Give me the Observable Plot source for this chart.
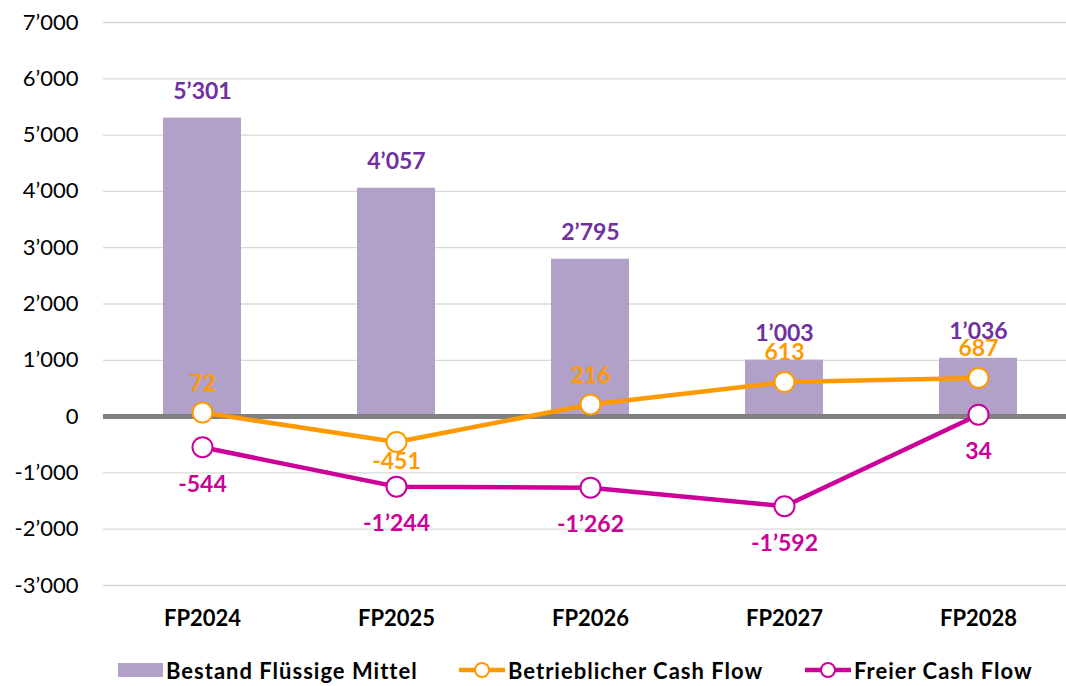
<!DOCTYPE html>
<html><head><meta charset="utf-8">
<script src="https://cdn.jsdelivr.net/npm/d3@7"></script>
<script src="https://cdn.jsdelivr.net/npm/@observablehq/plot@0.6"></script>
<style>
body{margin:0;background:#fff;font-family:Lato,sans-serif;}
#chart{width:1066px;height:640px;overflow:hidden;}
#legend{position:relative;height:46px;width:1066px;}
.item{position:absolute;top:0;height:60px;display:flex;align-items:center;font-weight:bold;font-size:22px;letter-spacing:1px;color:#000;white-space:nowrap;}
.item svg{margin-right:3px;}
</style></head><body>
<div id="chart"></div>
<div id="legend"></div>
<script>
const categories = ["FP2024", "FP2025", "FP2026", "FP2027", "FP2028"];
const bestand = [5301, 4057, 2795, 1003, 1036];
const betrieblich = [72, -451, 216, 613, 687];
const frei = [-544, -1244, -1262, -1592, 34];
const yTicks = [-3000, -2000, -1000, 0, 1000, 2000, 3000, 4000, 5000, 6000, 7000];
const seriesNames = ["Bestand Flüssige Mittel", "Betrieblicher Cash Flow", "Freier Cash Flow"];
const colors = ["#b1a0c7", "#ff9900", "#cc0099"];

const fmt = d3.formatLocale({decimal: ".", thousands: "\u2019", grouping: [3], currency: ["", ""], minus: "-"}).format(",");

const bars = categories.map((c, i) => ({cat: c, value: bestand[i]}));
const ops = categories.map((c, i) => ({cat: c, value: betrieblich[i]}));
const free = categories.map((c, i) => ({cat: c, value: frei[i]}));

const chart = Plot.plot({
  width: 1066, height: 640,
  marginTop: 22, marginBottom: 55, marginLeft: 103, marginRight: 0,
  x: {domain: categories, range: [103, 1076], paddingInner: 0.6, paddingOuter: 0.3, axis: null},
  y: {domain: [-3000, 7000], axis: null},
  style: {fontFamily: "Lato, sans-serif", background: "white", color: "black"},
  marks: [
    Plot.ruleY(yTicks, {stroke: "#d9d9d9", strokeWidth: 1.3}),
    Plot.barY(bars, {x: "cat", y: "value", fill: colors[0]}),
    Plot.ruleY([0], {stroke: "#808080", strokeWidth: 5}),
    Plot.line(ops, {x: "cat", y: "value", stroke: colors[1], strokeWidth: 4.5}),
    Plot.line(free, {x: "cat", y: "value", stroke: colors[2], strokeWidth: 4.5}),
    Plot.dot(ops, {x: "cat", y: "value", r: 10, fill: "white", stroke: colors[1], strokeWidth: 2}),
    Plot.dot(free, {x: "cat", y: "value", r: 10, fill: "white", stroke: colors[2], strokeWidth: 2}),
    Plot.text(bars, {x: "cat", y: "value", text: d => fmt(d.value), dy: -27, fill: "#7030a0", fontWeight: "bold", fontSize: 23}),
    Plot.text(ops.filter(d => d.value >= 0), {x: "cat", y: "value", text: d => fmt(d.value), dy: -29, fill: colors[1], fontWeight: "bold", fontSize: 23}),
    Plot.text(ops.filter(d => d.value < 0), {x: "cat", y: "value", text: d => fmt(d.value), dy: 20, fill: colors[1], fontWeight: "bold", fontSize: 23}),
    Plot.text(free, {x: "cat", y: "value", text: d => fmt(d.value), dy: 37, fill: colors[2], fontWeight: "bold", fontSize: 23}),
    Plot.axisY(yTicks, {tickSize: 0, tickPadding: 25, tickFormat: fmt, fontSize: 22, label: null}),
    Plot.axisX(categories, {tickSize: 0, tickPadding: 25, fontSize: 22, fontWeight: "bold", label: null})
  ]
});
document.getElementById("chart").appendChild(chart);

const legend = document.getElementById("legend");
const lefts = [118, 459, 805];
seriesNames.forEach((name, i) => {
  const div = document.createElement("div");
  div.className = "item";
  div.style.left = lefts[i] + "px";
  let sym;
  if (i === 0) {
    sym = `<svg width="45" height="18" style="margin-right:3px"><rect x="0" y="2" width="45" height="14" fill="${colors[0]}"/></svg>`;
  } else {
    sym = `<svg width="46" height="20"><line x1="0" x2="46" y1="10" y2="10" stroke="${colors[i]}" stroke-width="4.5" stroke-linecap="round"/><circle cx="23" cy="10" r="7" fill="white" stroke="${colors[i]}" stroke-width="2"/></svg>`;
  }
  div.innerHTML = sym + `<span>${name}</span>`;
  legend.appendChild(div);
});
</script>
</body></html>
